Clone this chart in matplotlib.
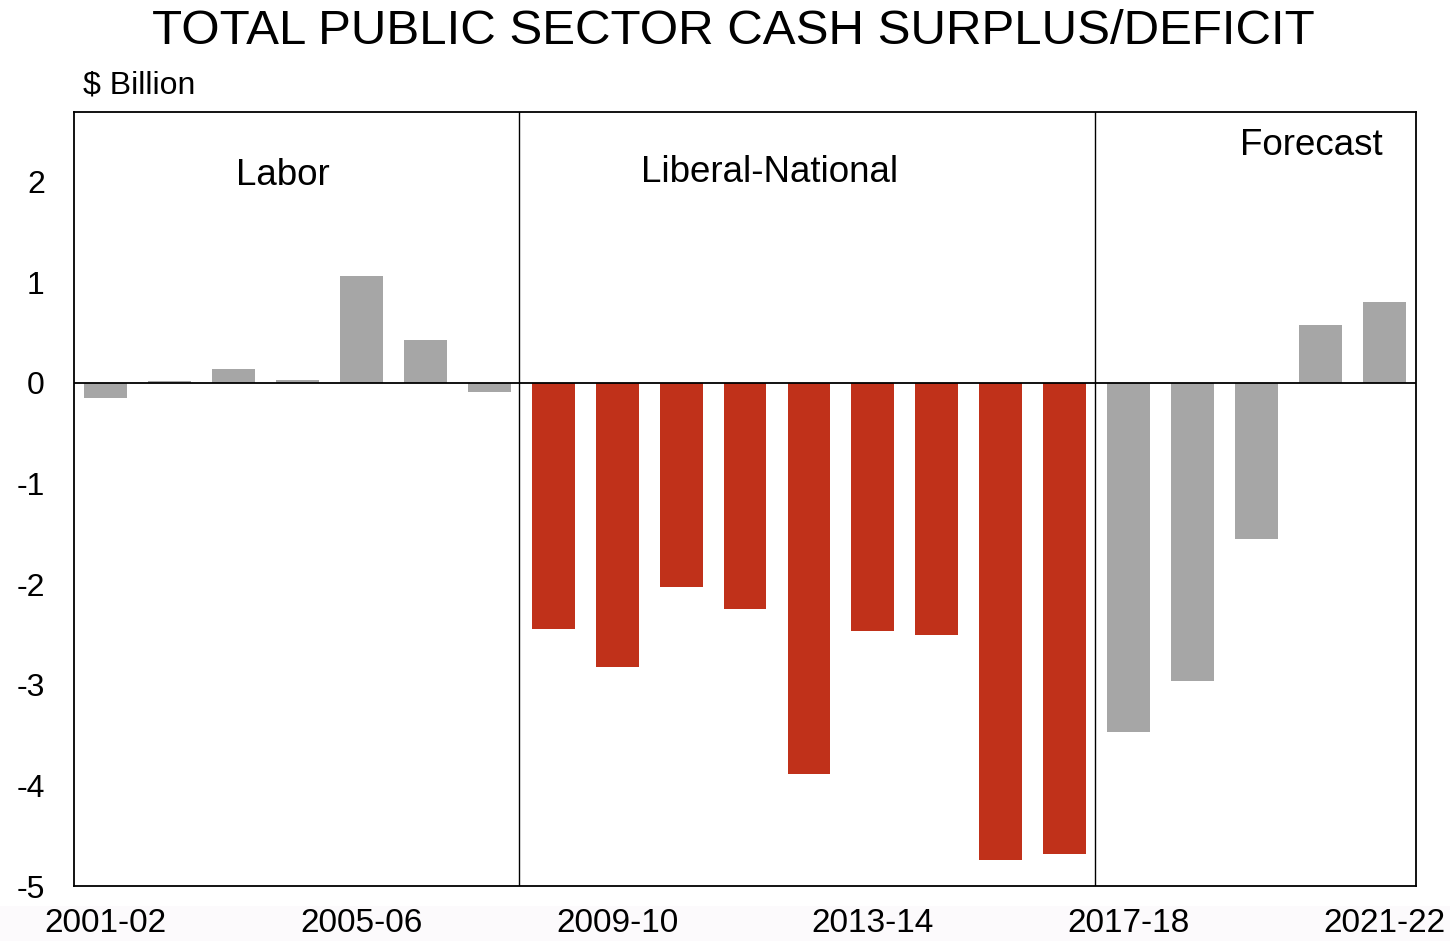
import numpy as np
import matplotlib.pyplot as plt
from matplotlib.patches import Rectangle

plt.rcParams['font.family'] = ['Liberation Sans', 'DejaVu Sans']

years = ['2001-02', '2002-03', '2003-04', '2004-05', '2005-06', '2006-07', '2007-08',
         '2008-09', '2009-10', '2010-11', '2011-12', '2012-13', '2013-14', '2014-15',
         '2015-16', '2016-17', '2017-18', '2018-19', '2019-20', '2020-21', '2021-22']
surplus = [-0.15, 0.02, 0.14, 0.03, 1.06, 0.42, -0.09,
           -2.45, -2.82, -2.03, -2.25, -3.89, -2.47, -2.51, -4.74, -4.68,
           -3.47, -2.96, -1.55, 0.57, 0.80]
# which government each year falls under
govt = ['Labor'] * 7 + ['Liberal-National'] * 9 + ['Forecast'] * 5
shown_years = ['2001-02', '2005-06', '2009-10', '2013-14', '2017-18', '2021-22']

grey = '#a6a6a6'
red = '#c0311a'
colors = [red if g == 'Liberal-National' else grey for g in govt]

fig = plt.figure(figsize=(14.5, 9.41), dpi=100)
# faint strip behind the year labels
fig.patches.append(Rectangle((0, 0), 1, 0.037, transform=fig.transFigure,
                             facecolor='#fcfafc', edgecolor='none', zorder=-1))
ax = fig.add_axes([0.051, 0.0584, 0.9256, 0.8226])

x = np.arange(len(years))
ax.bar(x, surplus, width=0.67, color=colors, zorder=2)
ax.axhline(0, color='black', lw=1.3, zorder=3)

# boundaries between the periods
for i in range(1, len(govt)):
    if govt[i] != govt[i - 1]:
        ax.axvline(i - 0.53, color='black', lw=1.0, zorder=3)

ax.text(2.77, 2.06, 'Labor', ha='center', va='center', fontsize=26.5)
ax.text(10.39, 2.09, 'Liberal-National', ha='center', va='center', fontsize=26.5)
ax.text(18.86, 2.36, 'Forecast', ha='center', va='center', fontsize=26.5)

ax.set_xlim(-0.5, len(years) - 0.5)
ax.set_ylim(-5, 2.69)
ax.set_yticks(range(-5, 3))
ax.set_yticklabels([str(v) for v in range(-5, 3)], fontsize=23)
ax.set_xticks([years.index(y) for y in shown_years])
ax.set_xticklabels(shown_years, fontsize=24)
ax.tick_params(axis='both', length=0)
ax.tick_params(axis='x', pad=16)
ax.tick_params(axis='y', pad=21)
for sp in ax.spines.values():
    sp.set_linewidth(1.3)

fig.text(0.506, 0.966, 'TOTAL PUBLIC SECTOR CASH SURPLUS/DEFICIT', ha='center', va='center', fontsize=35.5)
fig.text(0.057, 0.909, '$ Billion', ha='left', va='center', fontsize=23)

fig.savefig('out.png', dpi=100)
